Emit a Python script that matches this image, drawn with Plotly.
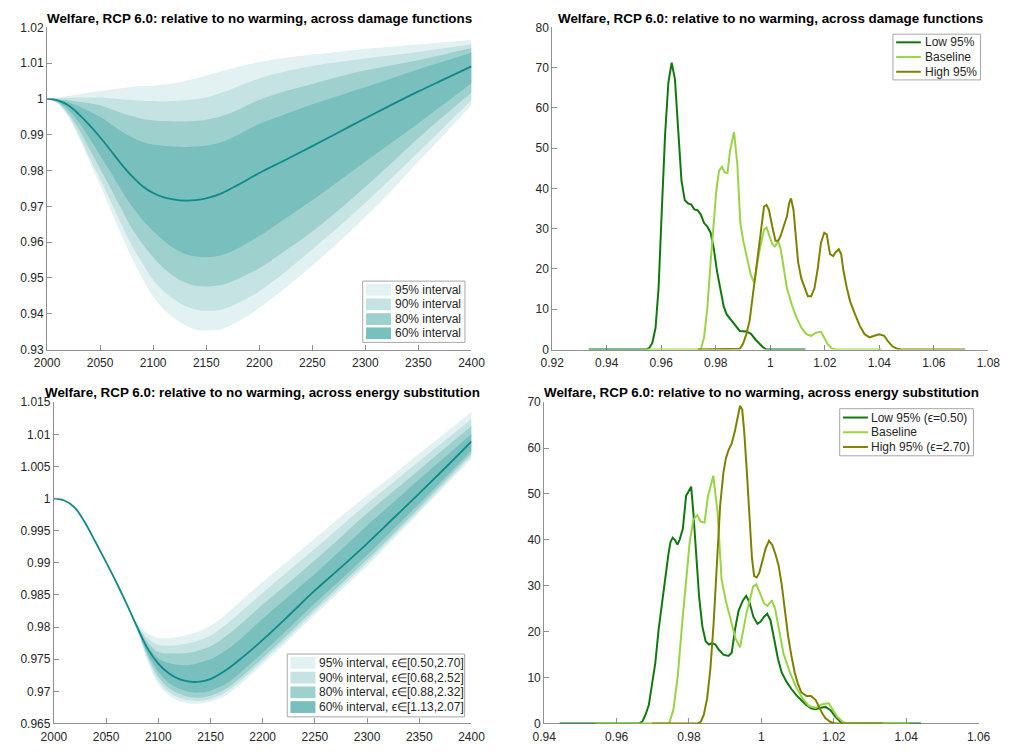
import plotly.graph_objects as go

# ---------------- data ----------------
years = [2000, 2010, 2020, 2030, 2040, 2050, 2060, 2070, 2080, 2090, 2100, 2110, 2120, 2130, 2140,
         2150, 2165, 2180, 2200, 2225, 2250, 2275, 2300, 2325, 2350, 2375, 2400]

# Top-left: across damage functions
dmg_median = [1.0, 0.9996, 0.9982, 0.9957, 0.9927, 0.9893, 0.9856, 0.9818, 0.9784, 0.9756, 0.9737, 0.9725, 0.9719,
              0.9716, 0.9717, 0.9722, 0.9737, 0.9760, 0.9793, 0.9830, 0.9868, 0.9907, 0.9946, 0.9984, 1.0021, 1.0056,
              1.0091]
dmg_95_hi = [1.0, 1.0004, 1.0008, 1.0013, 1.0018, 1.0022, 1.0026, 1.0030, 1.0034, 1.0036, 1.0037, 1.0040, 1.0044,
             1.0050, 1.0057, 1.0065, 1.0078, 1.0090, 1.0103, 1.0115, 1.0124, 1.0132, 1.0140, 1.0146, 1.0152, 1.0158,
             1.0165]
dmg_90_hi = [1.0, 1.0002, 1.0003, 1.0004, 1.0004, 1.0004, 1.0002, 0.9999, 0.9997, 0.9995, 0.9994, 0.9993, 0.9994,
             0.9996, 0.9999, 1.0004, 1.0018, 1.0035, 1.0057, 1.0077, 1.0092, 1.0103, 1.0113, 1.0122, 1.0131, 1.0142,
             1.0153]
dmg_80_hi = [1.0, 0.9999, 0.9996, 0.9992, 0.9988, 0.9982, 0.9972, 0.9961, 0.9952, 0.9944, 0.9940, 0.9938, 0.9937,
             0.9937, 0.9939, 0.9942, 0.9952, 0.9970, 0.9997, 1.0022, 1.0042, 1.0062, 1.0080, 1.0094, 1.0108, 1.0125,
             1.0142]
dmg_60_hi = [1.0, 0.9998, 0.9991, 0.9979, 0.9965, 0.9950, 0.9930, 0.9910, 0.9893, 0.9880, 0.9873, 0.9869, 0.9867,
             0.9866, 0.9867, 0.9870, 0.9880, 0.9900, 0.9930, 0.9958, 0.9985, 1.0009, 1.0033, 1.0058, 1.0083, 1.0106,
             1.0129]
dmg_60_lo = [1.0, 0.9992, 0.9970, 0.9935, 0.9890, 0.9842, 0.9795, 0.9745, 0.9700, 0.9662, 0.9631, 0.9604, 0.9582,
             0.9567, 0.9560, 0.9558, 0.9564, 0.9583, 0.9617, 0.9667, 0.9717, 0.9771, 0.9825, 0.9878, 0.9932, 0.9988,
             1.0044]
dmg_80_lo = [1.0, 0.9990, 0.9960, 0.9915, 0.9860, 0.9805, 0.9750, 0.9693, 0.9638, 0.9595, 0.9558, 0.9527, 0.9503,
             0.9487, 0.9478, 0.9476, 0.9481, 0.9498, 0.9527, 0.9577, 0.9630, 0.9690, 0.9755, 0.9822, 0.9891, 0.9955,
             1.0018]
dmg_90_lo = [1.0, 0.9988, 0.9953, 0.9900, 0.9835, 0.9777, 0.9715, 0.9650, 0.9590, 0.9540, 0.9494, 0.9462, 0.9440,
             0.9422, 0.9412, 0.9408, 0.9412, 0.9430, 0.9463, 0.9518, 0.9580, 0.9643, 0.9710, 0.9780, 0.9852, 0.9924,
             0.9996]
dmg_95_lo = [1.0, 0.9987, 0.9950, 0.9892, 0.9825, 0.9759, 0.9690, 0.9620, 0.9555, 0.9497, 0.9448, 0.9412, 0.9387,
             0.9368, 0.9356, 0.9353, 0.9358, 0.9378, 0.9416, 0.9473, 0.9535, 0.9600, 0.9670, 0.9745, 0.9825, 0.9903,
             0.9982]

# Bottom-left: across energy substitution
sub_median = [1.0, 0.9997, 0.9986, 0.9962, 0.9932, 0.9901, 0.9869, 0.9835, 0.9799, 0.9766, 0.9743, 0.9728, 0.9719,
              0.9715, 0.9715, 0.9719, 0.9733, 0.9752, 0.9780, 0.9818, 0.9857, 0.9893, 0.9930, 0.9969, 1.0008, 1.0048,
              1.0089]
sub_95_hi = [1.0, 0.9997, 0.9986, 0.9962, 0.9932, 0.9901, 0.9869, 0.9837, 0.9806, 0.9790, 0.9783, 0.9783, 0.9785,
             0.9789, 0.9794, 0.9802, 0.9820, 0.9842, 0.9870, 0.9904, 0.9938, 0.9972, 1.0005, 1.0037, 1.0070, 1.0102,
             1.0135]
sub_90_hi = [1.0, 0.9997, 0.9986, 0.9962, 0.9932, 0.9901, 0.9869, 0.9836, 0.9804, 0.9782, 0.9772, 0.9771, 0.9772,
             0.9775, 0.9780, 0.9787, 0.9804, 0.9825, 0.9853, 0.9888, 0.9922, 0.9957, 0.9992, 1.0025, 1.0058, 1.0091,
             1.0124]
sub_80_hi = [1.0, 0.9997, 0.9986, 0.9962, 0.9932, 0.9901, 0.9869, 0.9836, 0.9803, 0.9776, 0.9761, 0.9759, 0.9759,
             0.9760, 0.9764, 0.9770, 0.9786, 0.9806, 0.9835, 0.9869, 0.9904, 0.9940, 0.9977, 1.0011, 1.0045, 1.0079,
             1.0113]
sub_60_hi = [1.0, 0.9997, 0.9986, 0.9962, 0.9932, 0.9901, 0.9869, 0.9835, 0.9801, 0.9770, 0.9751, 0.9744, 0.9741,
             0.9741, 0.9745, 0.9750, 0.9764, 0.9783, 0.9813, 0.9848, 0.9883, 0.9920, 0.9958, 0.9994, 1.0030, 1.0065,
             1.0101]
sub_60_lo = [1.0, 0.9997, 0.9986, 0.9962, 0.9932, 0.9901, 0.9869, 0.9835, 0.9797, 0.9758, 0.9731, 0.9713, 0.9704,
             0.9699, 0.9698, 0.9701, 0.9712, 0.9731, 0.9760, 0.9798, 0.9837, 0.9874, 0.9912, 0.9952, 0.9992, 1.0033,
             1.0075]
sub_80_lo = [1.0, 0.9997, 0.9986, 0.9962, 0.9932, 0.9901, 0.9869, 0.9834, 0.9796, 0.9754, 0.9723, 0.9705, 0.9696,
             0.9691, 0.9690, 0.9693, 0.9704, 0.9723, 0.9752, 0.9790, 0.9829, 0.9867, 0.9905, 0.9945, 0.9986, 1.0028,
             1.0070]
sub_90_lo = [1.0, 0.9997, 0.9986, 0.9962, 0.9932, 0.9901, 0.9869, 0.9834, 0.9795, 0.9750, 0.9717, 0.9699, 0.9690,
             0.9686, 0.9685, 0.9688, 0.9699, 0.9718, 0.9747, 0.9785, 0.9824, 0.9862, 0.9900, 0.9941, 0.9982, 1.0024,
             1.0066]
sub_95_lo = [1.0, 0.9997, 0.9986, 0.9962, 0.9932, 0.9901, 0.9869, 0.9833, 0.9794, 0.9746, 0.9711, 0.9694, 0.9685,
             0.9681, 0.9681, 0.9684, 0.9694, 0.9713, 0.9742, 0.9780, 0.9819, 0.9857, 0.9895, 0.9936, 0.9978, 1.0020,
             1.0062]

# Densities (shared baseline)
base_x = [0.9542, 0.9745, 0.9757, 0.9769, 0.9781, 0.9793, 0.9802, 0.9812, 0.9823, 0.9832, 0.9843, 0.9852, 0.9867, 0.9879,
          0.9890, 0.9902, 0.9917, 0.9929, 0.9941, 0.9959, 0.9977, 0.9986, 0.9995, 1.0007, 1.0017, 1.0029, 1.0038, 1.0049,
          1.0061, 1.0079, 1.0096, 1.0114, 1.0132, 1.0150, 1.0168, 1.0186, 1.0198, 1.0210, 1.0227, 1.0245, 1.0410]
base_y = [0, 0, 3.0, 10.3, 21.7, 32.2, 39.5, 44.4, 45.4, 44.0, 43.8, 49.3, 54.0, 46.0,
          31.4, 26.6, 21.7, 18.4, 16.6, 24.1, 29.8, 30.3, 28.6, 26.2, 25.6, 26.8, 25.0, 20.1,
          15.2, 11.1, 7.9, 5.4, 3.8, 3.4, 4.2, 4.4, 3.0, 1.4, 0.2, 0, 0]

dmg_low_x = [0.9334, 0.9543, 0.9555, 0.9567, 0.9579, 0.9590, 0.9602, 0.9614, 0.9626, 0.9638, 0.9650, 0.9662, 0.9674,
             0.9686, 0.9698, 0.9710, 0.9721, 0.9733, 0.9745, 0.9757, 0.9769, 0.9781, 0.9793, 0.9805, 0.9817, 0.9829,
             0.9840, 0.9864, 0.9888, 0.9912, 0.9929, 0.9948, 0.9971, 0.9985, 1.0129]
dmg_low_y = [0, 0, 0.3, 1.6, 5.4, 15.2, 34.7, 53.4, 66.3, 71.2, 67.2, 55.8, 42.0,
             37.1, 36.3, 36.0, 34.8, 34.6, 33.5, 31.4, 30.5, 29.0, 24.9, 19.2, 14.4, 10.7,
             8.7, 6.7, 4.6, 4.5, 3.9, 2.3, 0.7, 0, 0]

dmg_high_x = [0.9733, 0.9888, 0.9900, 0.9912, 0.9924, 0.9936, 0.9948, 0.9960, 0.9969, 0.9977, 0.9986, 0.9995, 1.0007,
              1.0019, 1.0029, 1.0038, 1.0049, 1.0061, 1.0069, 1.0076, 1.0085, 1.0093, 1.0102, 1.0114, 1.0126, 1.0138,
              1.0150, 1.0162, 1.0174, 1.0186, 1.0198, 1.0207, 1.0219, 1.0231, 1.0239, 1.0251, 1.0260, 1.0269, 1.0281,
              1.0293, 1.0311, 1.0329, 1.0346, 1.0364, 1.0382, 1.0400, 1.0418, 1.0430, 1.0448, 1.0465, 1.0483, 1.0715]
dmg_high_y = [0, 0.2, 1.4, 3.8, 7.1, 13.6, 20.1, 26.6, 31.4, 35.5, 35.9, 34.7, 30.6,
              27.0, 27.0, 28.2, 30.6, 33.0, 36.3, 37.5, 34.7, 28.2, 21.7, 17.6, 15.2, 13.2,
              13.2, 15.2, 20.1, 26.6, 29.0, 28.6, 23.7, 23.2, 24.1, 24.9, 23.7, 19.3, 15.2,
              11.9, 8.7, 5.8, 3.8, 3.0, 3.4, 3.8, 3.4, 2.2, 0.8, 0.2, 0, 0]

sub_low_x = [0.9443, 0.9662, 0.9671, 0.9680, 0.9689, 0.9698, 0.9707, 0.9716, 0.9725, 0.9734, 0.9743, 0.9749, 0.9755,
             0.9761, 0.9768, 0.9774, 0.9783, 0.9792, 0.9798, 0.9806, 0.9812, 0.9819, 0.9828, 0.9837, 0.9846, 0.9855,
             0.9864, 0.9873, 0.9882, 0.9895, 0.9909, 0.9918, 0.9927, 0.9937, 0.9949, 0.9958, 0.9967, 0.9978, 0.9989,
             0.9998, 1.0007, 1.0016, 1.0025, 1.0034, 1.0046, 1.0056, 1.0070, 1.0083, 1.0097, 1.0110, 1.0124, 1.0137,
             1.0150, 1.0164, 1.0177, 1.0191, 1.0204, 1.0218, 1.0231, 1.0441]
sub_low_y = [0, 0, 0.4, 1.9, 4.0, 8.3, 13.2, 20.4, 26.1, 31.8, 36.8, 39.6, 40.5,
             40.0, 39.0, 40.0, 42.4, 49.6, 50.6, 51.6, 46.0, 38.2, 27.5, 21.1, 17.9, 17.2,
             17.5, 17.2, 16.1, 15.0, 14.7, 15.4, 20.4, 24.6, 26.8, 27.8, 26.4, 23.2, 21.7,
             22.2, 23.2, 23.9, 22.5, 18.9, 14.0, 11.1, 9.0, 7.5, 6.1, 5.1, 4.0, 3.3,
             3.1, 3.4, 3.6, 2.9, 1.5, 0.4, 0, 0]

sub_high_x = [0.9698, 0.9824, 0.9833, 0.9841, 0.9850, 0.9859, 0.9868, 0.9877, 0.9886, 0.9895, 0.9902, 0.9909, 0.9918,
              0.9927, 0.9936, 0.9941, 0.9947, 0.9953, 0.9960, 0.9967, 0.9974, 0.9980, 0.9987, 0.9994, 1.0003, 1.0012,
              1.0021, 1.0030, 1.0038, 1.0047, 1.0056, 1.0065, 1.0074, 1.0083, 1.0092, 1.0101, 1.0110, 1.0124, 1.0137,
              1.0150, 1.0159, 1.0168, 1.0177, 1.0191, 1.0204, 1.0334]
sub_high_y = [0, 0, 0.4, 1.9, 5.4, 11.8, 21.8, 36.0, 47.4, 54.6, 57.8, 59.5, 61.0,
              63.8, 67.4, 69.2, 68.4, 63.1, 54.6, 43.9, 36.0, 32.1, 31.8, 32.8, 35.3, 38.2,
              39.8, 38.9, 37.1, 34.6, 30.3, 24.6, 18.9, 14.7, 11.1, 8.6, 6.8, 6.0, 6.0,
              5.1, 3.6, 2.2, 1.1, 0.3, 0, 0]

band_labels_dmg = ["95% interval", "90% interval", "80% interval", "60% interval"]
band_labels_sub = ["95% interval, ϵ∈[0.50,2.70]", "90% interval, ϵ∈[0.68,2.52]",
                   "80% interval, ϵ∈[0.88,2.32]", "60% interval, ϵ∈[1.13,2.07]"]
line_labels_dmg = ["Low 95%", "Baseline", "High 95%"]
line_labels_sub = ["Low 95% (ϵ=0.50)", "Baseline", "High 95% (ϵ=2.70)"]
title_dmg = "Welfare, RCP 6.0: relative to no warming, across damage functions"
title_sub = "Welfare, RCP 6.0: relative to no warming, across energy substitution"

ytick_tl = [0.93, 0.94, 0.95, 0.96, 0.97, 0.98, 0.99, 1.0, 1.01, 1.02]
ytick_tl_txt = ["0.93", "0.94", "0.95", "0.96", "0.97", "0.98", "0.99", "1", "1.01", "1.02"]
ytick_bl = [0.965, 0.97, 0.975, 0.98, 0.985, 0.99, 0.995, 1.0, 1.005, 1.01, 1.015]
ytick_bl_txt = ["0.965", "0.97", "0.975", "0.98", "0.985", "0.99", "0.995", "1", "1.005", "1.01", "1.015"]
xtick_years = [2000, 2050, 2100, 2150, 2200, 2250, 2300, 2350, 2400]
xtick_tr = [0.92, 0.94, 0.96, 0.98, 1.0, 1.02, 1.04, 1.06, 1.08]
xtick_tr_txt = ["0.92", "0.94", "0.96", "0.98", "1", "1.02", "1.04", "1.06", "1.08"]
xtick_br = [0.94, 0.96, 0.98, 1.0, 1.02, 1.04, 1.06]
xtick_br_txt = ["0.94", "0.96", "0.98", "1", "1.02", "1.04", "1.06"]

# ---------------- styling ----------------
W, H = 1015, 753
FONT = "Liberation Sans, Arial, Helvetica, sans-serif"
band_colors = ["#e2f1f1", "#c4e3e2", "#9ed0ce", "#78bfbd"]
median_color = "#0f8a8a"
line_colors = ["#11780f", "#99d444", "#808000"]
AXC = "#8f8f8f"
TXC = "#262626"
SMOOTH = 1.0


def fx(p):
    return p / W


def fy(p):
    return 1 - p / H


fig = go.Figure()


def add_bands(xa, ya, lows, highs, median):
    for lo, hi, col in zip(lows, highs, band_colors):
        fig.add_trace(go.Scatter(x=years, y=lo, mode="lines", line=dict(width=0, shape="spline", smoothing=SMOOTH),
                                 showlegend=False, hoverinfo="skip", xaxis=xa, yaxis=ya))
        fig.add_trace(go.Scatter(x=years, y=hi, mode="lines", line=dict(width=0, shape="spline", smoothing=SMOOTH),
                                 fill="tonexty", fillcolor=col, showlegend=False, hoverinfo="skip",
                                 xaxis=xa, yaxis=ya))
    fig.add_trace(go.Scatter(x=years, y=median, mode="lines",
                             line=dict(color=median_color, width=1.8, shape="spline", smoothing=SMOOTH),
                             showlegend=False, xaxis=xa, yaxis=ya))


add_bands("x", "y", [dmg_95_lo, dmg_90_lo, dmg_80_lo, dmg_60_lo],
          [dmg_95_hi, dmg_90_hi, dmg_80_hi, dmg_60_hi], dmg_median)
add_bands("x3", "y3", [sub_95_lo, sub_90_lo, sub_80_lo, sub_60_lo],
          [sub_95_hi, sub_90_hi, sub_80_hi, sub_60_hi], sub_median)

for (xs, ys), col in zip([(dmg_low_x, dmg_low_y), (base_x, base_y), (dmg_high_x, dmg_high_y)], line_colors):
    fig.add_trace(go.Scatter(x=xs, y=ys, mode="lines", line=dict(color=col, width=2),
                             showlegend=False, xaxis="x2", yaxis="y2"))
for (xs, ys), col in zip([(sub_low_x, sub_low_y), (base_x, base_y), (sub_high_x, sub_high_y)], line_colors):
    fig.add_trace(go.Scatter(x=xs, y=ys, mode="lines", line=dict(color=col, width=2),
                             showlegend=False, xaxis="x4", yaxis="y4"))

axis_common = dict(showline=True, linecolor=AXC, linewidth=1, ticks="inside", ticklen=5, tickwidth=1,
                   tickcolor=AXC, showgrid=False, zeroline=False, mirror=False,
                   tickfont=dict(family=FONT, size=12, color=TXC))
xaxis_common = dict(axis_common, ticklabelstandoff=2)

top_dom = [fy(349), fy(20.7)]
bot_dom = [fy(730), fy(402.7)]

fig.update_layout(
    width=W, height=H, margin=dict(l=0, r=0, t=0, b=0),
    paper_bgcolor="white", plot_bgcolor="white", showlegend=False,
    font=dict(family=FONT, size=12, color=TXC),
    xaxis=dict(domain=[fx(35), fx(471)], range=[2000, 2400], tickvals=xtick_years, anchor="y", **xaxis_common),
    yaxis=dict(domain=top_dom, range=[0.93, 1.02], tickvals=ytick_tl, ticktext=ytick_tl_txt, anchor="x",
               **axis_common),
    xaxis2=dict(domain=[fx(554), fx(1002)], range=[0.92, 1.08], tickvals=xtick_tr, ticktext=xtick_tr_txt,
                anchor="y2", layer="below traces", **xaxis_common),
    yaxis2=dict(domain=top_dom, range=[0, 80], tickvals=list(range(0, 81, 10)), anchor="x2",
                layer="below traces", **axis_common),
    xaxis3=dict(domain=[fx(42), fx(471)], range=[2000, 2400], tickvals=xtick_years, anchor="y3", **xaxis_common),
    yaxis3=dict(domain=bot_dom, range=[0.965, 1.015], tickvals=ytick_bl, ticktext=ytick_bl_txt, anchor="x3",
                **axis_common),
    xaxis4=dict(domain=[fx(545.7), fx(992)], range=[0.94, 1.06], tickvals=xtick_br, ticktext=xtick_br_txt,
                anchor="y4", layer="below traces", **xaxis_common),
    yaxis4=dict(domain=bot_dom, range=[0, 70], tickvals=list(range(0, 71, 10)), anchor="x4",
                layer="below traces", **axis_common),
)

shapes = []
annotations = []

# Titles
for text, cx, cy in [(title_dmg, 253, 11.5), (title_dmg, 778, 11.5), (title_sub, 256.5, 392.5), (title_sub, 769, 392.5)]:
    annotations.append(dict(text="<b>" + text + "</b>", x=fx(cx), y=fy(cy), xref="paper", yref="paper",
                            xanchor="center", yanchor="middle", showarrow=False,
                            font=dict(family=FONT, size=13.4, color="black")))


def patch_legend(box, sw_x0, sw_x1, txt_x, rows, labels):
    x0, y0, x1, y1 = box
    shapes.append(dict(type="rect", xref="paper", yref="paper", x0=fx(x0), x1=fx(x1), y0=fy(y1), y1=fy(y0),
                       line=dict(color="#a6a6a6", width=1), fillcolor="white", layer="above"))
    for ry, lab, col in zip(rows, labels, band_colors):
        shapes.append(dict(type="rect", xref="paper", yref="paper", x0=fx(sw_x0), x1=fx(sw_x1),
                           y0=fy(ry + 6), y1=fy(ry - 6), line=dict(width=0), fillcolor=col, layer="above"))
        annotations.append(dict(text=lab, x=fx(txt_x), y=fy(ry), xref="paper", yref="paper", xanchor="left",
                                yanchor="middle", showarrow=False, font=dict(family=FONT, size=12, color=TXC)))


def line_legend(box, l_x0, l_x1, txt_x, rows, labels):
    x0, y0, x1, y1 = box
    shapes.append(dict(type="rect", xref="paper", yref="paper", x0=fx(x0), x1=fx(x1), y0=fy(y1), y1=fy(y0),
                       line=dict(color="#a6a6a6", width=1), fillcolor="white", layer="above"))
    for ry, lab, col in zip(rows, labels, line_colors):
        shapes.append(dict(type="line", xref="paper", yref="paper", x0=fx(l_x0), x1=fx(l_x1),
                           y0=fy(ry), y1=fy(ry), line=dict(color=col, width=2), layer="above"))
        annotations.append(dict(text=lab, x=fx(txt_x), y=fy(ry), xref="paper", yref="paper", xanchor="left",
                                yanchor="middle", showarrow=False, font=dict(family=FONT, size=12, color=TXC)))


patch_legend((359.3, 279.3, 464.3, 341.7), 362.7, 388.3, 390.5, [288, 303, 318, 332.5], band_labels_dmg)
patch_legend((281.7, 659.3, 464, 723.3), 285, 310.7, 312, [668.3, 683.3, 698.3, 713.3], band_labels_sub)
line_legend((904, 27.7, 994, 74.3), 907.3, 932.7, 934.5, [36, 51, 66], line_labels_dmg)
line_legend((849.3, 409.3, 986.7, 457.3), 852.7, 878.3, 879.5, [418.3, 433.3, 448.3], line_labels_sub)

fig.update_layout(shapes=shapes, annotations=annotations)
fig.write_html("out.html")
